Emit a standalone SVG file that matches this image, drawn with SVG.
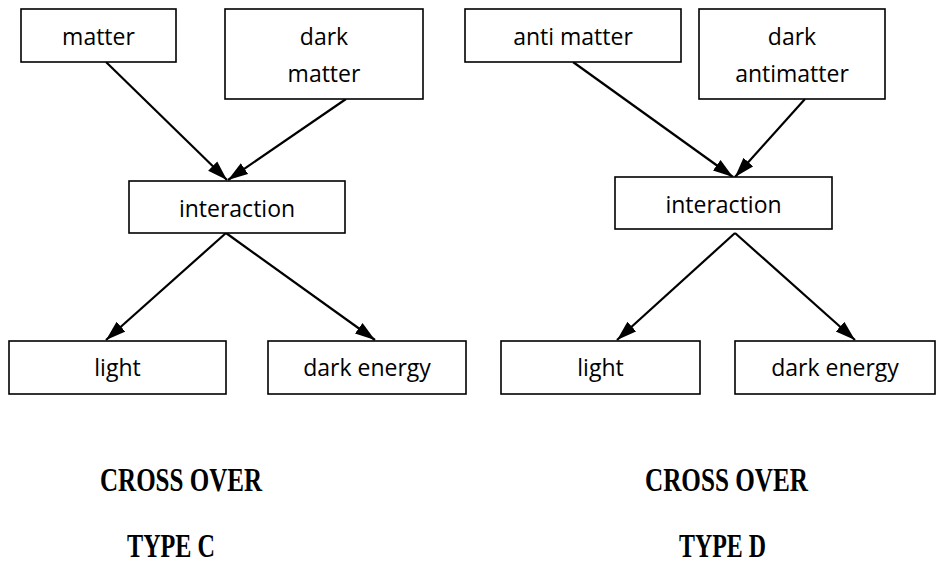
<svg xmlns="http://www.w3.org/2000/svg" width="943" height="580" viewBox="0 0 943 580">
<defs>
<marker id="ah" markerUnits="userSpaceOnUse" markerWidth="22" markerHeight="16" viewBox="0 0 22 16" refX="20" refY="7" orient="auto">
<path d="M0,0.5 L20,7 L0,13.5 Z" fill="#000"/>
</marker>
<style>
.box{fill:#fff;stroke:#000;stroke-width:1.6}
.lbl{font-family:"Open Sans","DejaVu Sans",sans-serif;font-size:23px;fill:#000;text-anchor:middle}
.cap{font-family:"Liberation Serif","Times New Roman",serif;font-weight:bold;font-size:34px;fill:#000}
.edge{stroke:#000;stroke-width:2.2;fill:none;marker-end:url(#ah)}
</style>
</defs>
<rect width="943" height="580" fill="#fff"/>
<g id="connectors">
<line class="edge" x1="106" y1="62" x2="227" y2="180"/>
<line class="edge" x1="346" y1="99" x2="228" y2="180"/>
<line class="edge" x1="226" y1="233" x2="106" y2="340"/>
<line class="edge" x1="226" y1="233" x2="375" y2="340"/>
<line class="edge" x1="573" y1="62" x2="733" y2="177"/>
<line class="edge" x1="805" y1="99" x2="735" y2="177"/>
<line class="edge" x1="735" y1="233" x2="617" y2="340"/>
<line class="edge" x1="735" y1="233" x2="855" y2="340"/>
</g>
<g id="matter"><rect class="box" x="21" y="9" width="155" height="53"/><text class="lbl" x="98.5" y="45">matter</text></g>
<g id="dark-matter"><rect class="box" x="225" y="9" width="198" height="90"/><text class="lbl" x="324" y="45">dark</text><text class="lbl" x="324" y="82">matter</text></g>
<g id="interaction-c"><rect class="box" x="129" y="181" width="216" height="52"/><text class="lbl" x="237" y="217">interaction</text></g>
<g id="light-c"><rect class="box" x="9" y="341" width="217" height="53"/><text class="lbl" x="117.5" y="376">light</text></g>
<g id="dark-energy-c"><rect class="box" x="268" y="341" width="198" height="53"/><text class="lbl" x="367" y="376">dark energy</text></g>
<g id="anti-matter"><rect class="box" x="465" y="9" width="216" height="53"/><text class="lbl" x="573" y="45">anti matter</text></g>
<g id="dark-antimatter"><rect class="box" x="699" y="9" width="186" height="90"/><text class="lbl" x="792" y="45">dark</text><text class="lbl" x="792" y="82">antimatter</text></g>
<g id="interaction-d"><rect class="box" x="615" y="177" width="217" height="52"/><text class="lbl" x="723.5" y="213">interaction</text></g>
<g id="light-d"><rect class="box" x="501" y="341" width="199" height="53"/><text class="lbl" x="600.5" y="376">light</text></g>
<g id="dark-energy-d"><rect class="box" x="735" y="341" width="200" height="53"/><text class="lbl" x="835" y="376">dark energy</text></g>
<g id="captions">
<text class="cap" x="100" y="491" textLength="162" lengthAdjust="spacingAndGlyphs">CROSS OVER</text>
<text class="cap" x="127" y="557" textLength="88" lengthAdjust="spacingAndGlyphs">TYPE C</text>
<text class="cap" x="645" y="491" textLength="163" lengthAdjust="spacingAndGlyphs">CROSS OVER</text>
<text class="cap" x="679" y="557" textLength="87" lengthAdjust="spacingAndGlyphs">TYPE D</text>
</g>
</svg>
